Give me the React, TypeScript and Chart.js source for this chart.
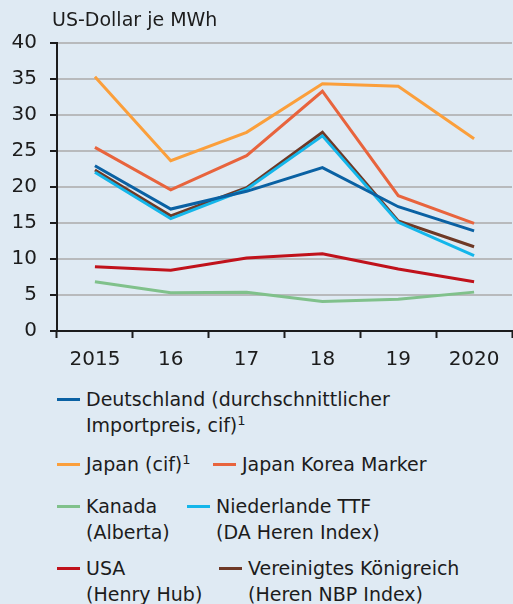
import React, { useEffect, useRef } from "react";
import { Chart, registerables } from "chart.js";

Chart.register(...registerables);

const years = ["2015", "16", "17", "18", "19", "2020"];
const deutschland = [22.96, 16.94, 19.4, 22.7, 17.26, 13.9];
const japanCif = [35.3, 23.65, 27.6, 34.35, 34.0, 26.7];
const japanKoreaMarker = [25.5, 19.6, 24.35, 33.3, 18.8, 14.96];
const kanada = [6.85, 5.32, 5.38, 4.1, 4.4, 5.4];
const niederlande = [22.04, 15.6, 19.7, 27.1, 15.1, 10.46];
const usa = [8.93, 8.43, 10.14, 10.74, 8.6, 6.85];
const vereinigtesKoenigreich = [22.36, 16.0, 19.9, 27.6, 15.28, 11.7];

const yMin = 0;
const yMax = 40;
const yStep = 5;

const titleText = "US-Dollar je MWh";

const colors = {
  deutschland: "#0a61a3",
  japanCif: "#fb9f3b",
  jkm: "#e8643d",
  kanada: "#80c18b",
  niederlande: "#14b6ea",
  usa: "#c0121b",
  uk: "#6e3926",
};

const FONT = "'DejaVu Sans', sans-serif";
const TEXT = "#1c1c1c";
const BG = "#dfeaf3";

type LegendItem = {
  lines: string[];
  sup?: boolean;
  color: string;
  lineX: number;
  textX: number;
  y: number;
};

const legendItems: LegendItem[] = [
  { lines: ["Deutschland (durchschnittlicher", "Importpreis, cif)"], sup: true, color: colors.deutschland, lineX: 57, textX: 86, y: 399 },
  { lines: ["Japan (cif)"], sup: true, color: colors.japanCif, lineX: 57, textX: 86, y: 464 },
  { lines: ["Japan Korea Marker"], color: colors.jkm, lineX: 213, textX: 242, y: 464 },
  { lines: ["Kanada", "(Alberta)"], color: colors.kanada, lineX: 57, textX: 86, y: 506 },
  { lines: ["Niederlande TTF", "(DA Heren Index)"], color: colors.niederlande, lineX: 187, textX: 216, y: 506 },
  { lines: ["USA", "(Henry Hub)"], color: colors.usa, lineX: 57, textX: 86, y: 568 },
  { lines: ["Vereinigtes Königreich", "(Heren NBP Index)"], color: colors.uk, lineX: 219, textX: 248, y: 568 },
];

function Legend() {
  return (
    <>
      {legendItems.map((it, i) => (
        <React.Fragment key={i}>
          <div
            style={{
              position: "absolute",
              left: it.lineX,
              top: it.y - 1.5,
              width: 23,
              height: 3,
              background: it.color,
            }}
          />
          <div
            style={{
              position: "absolute",
              left: it.textX,
              top: it.y - 12.7,
              font: `19px ${FONT}`,
              lineHeight: "26px",
              color: TEXT,
              whiteSpace: "nowrap",
            }}
          >
            {it.lines.map((l, j) => (
              <div key={j}>
                {l}
                {it.sup && j === it.lines.length - 1 ? (
                  <span style={{ fontSize: 13, position: "relative", top: -7 }}>1</span>
                ) : null}
              </div>
            ))}
          </div>
        </React.Fragment>
      ))}
    </>
  );
}

export default function App() {
  const ref = useRef<HTMLCanvasElement>(null);

  useEffect(() => {
    document.body.style.margin = "0";
    const mk = (label: string, data: number[], color: string) => ({
      label,
      data,
      borderColor: color,
      backgroundColor: color,
      borderWidth: 3,
      pointRadius: 0,
      tension: 0,
      fill: false,
    });
    const chart = new Chart(ref.current!, {
      type: "line",
      data: {
        labels: years,
        datasets: [
          mk("Deutschland", deutschland, colors.deutschland),
          mk("Japan (cif)", japanCif, colors.japanCif),
          mk("Japan Korea Marker", japanKoreaMarker, colors.jkm),
          mk("Kanada", kanada, colors.kanada),
          mk("Niederlande TTF", niederlande, colors.niederlande),
          mk("USA", usa, colors.usa),
          mk("Vereinigtes Königreich", vereinigtesKoenigreich, colors.uk),
        ],
      },
      options: {
        animation: false,
        responsive: false,
        maintainAspectRatio: false,
        layout: { padding: { top: 43, right: 1, left: 0, bottom: 0 } },
        plugins: {
          legend: { display: false },
          tooltip: { enabled: false },
          title: { display: false },
        },
        scales: {
          x: {
            offset: true,
            grid: {
              offset: true,
              drawOnChartArea: false,
              drawTicks: true,
              tickLength: 7,
              tickWidth: 2,
              tickColor: TEXT,
            },
            border: { display: true, color: TEXT, width: 2 },
            ticks: {
              color: TEXT,
              font: { family: FONT, size: 20 },
              padding: 10,
              maxRotation: 0,
              autoSkip: false,
            },
            afterFit: (s: any) => {
              s.height = 50;
            },
          },
          y: {
            min: yMin,
            max: yMax,
            ticks: {
              stepSize: yStep,
              color: TEXT,
              font: { family: FONT, size: 20 },
              padding: 13,
            },
            grid: {
              color: "#b8babc",
              lineWidth: 2,
              tickColor: TEXT,
              tickLength: 7,
              tickWidth: 2,
            },
            border: { display: true, color: TEXT, width: 2 },
            afterFit: (s: any) => {
              s.width = 57;
            },
          },
        },
      },
    } as any);
    return () => chart.destroy();
  }, []);

  return (
    <div style={{ position: "relative", width: 513, height: 604, background: BG, overflow: "hidden" }}>
      <canvas ref={ref} width={513} height={381} style={{ position: "absolute", left: 0, top: 0, width: 513, height: 381 }} />
      <div
        style={{
          position: "absolute",
          left: 52,
          top: 6,
          font: `19px ${FONT}`,
          lineHeight: "26px",
          color: TEXT,
          whiteSpace: "nowrap",
        }}
      >
        {titleText}
      </div>
      <Legend />
    </div>
  );
}
